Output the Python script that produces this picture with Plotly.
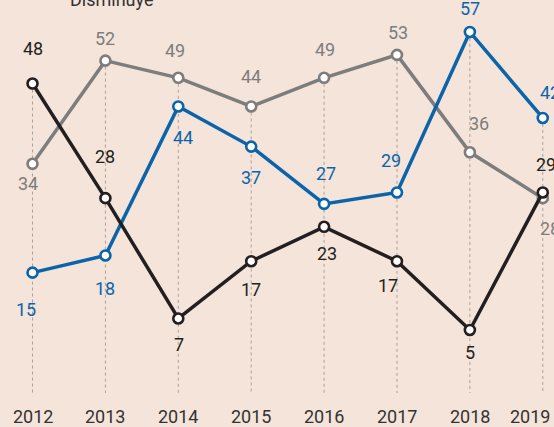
import plotly.graph_objects as go

years = ["2012", "2013", "2014", "2015", "2016", "2017", "2018", "2019"]
black_vals = [48, 28, 7, 17, 23, 17, 5, 29]
gray_vals = [34, 52, 49, 44, 49, 53, 36, 28]
blue_vals = [15, 18, 44, 37, 27, 29, 57, 42]

# label placement (pixel offsets from each point)
black_dy = [-35, -42, 26, 28, 27, 24, 23, -28]
black_dx = [0, 0, 1, 0, 3, -9, 0, 3]
gray_dy = [20, -22, -27, -30, -28, -22, -29, 30]
gray_dx = [-5, 0, -3, 0, 1, 1, 9, 7]
blue_dy = [37, 33, 31, 31, -30, -32, -23, -25]
blue_dx = [-7, 0, 5, 0, 2, -6, 0, 7]
year_dx = [0, 0, 0, 0, 0, 0, 0, -13]

BG = "#f5e4d9"
FONT = "Roboto, Liberation Sans, sans-serif"
series = [
    ("gray", gray_vals, "#7d7d7d", "#7d7d7d", gray_dx, gray_dy),
    ("blue", blue_vals, "#0b64aa", "#0b64aa", blue_dx, blue_dy),
    ("black", black_vals, "#231f20", "#231f20", black_dx, black_dy),
]

xs = list(range(len(years)))
fig = go.Figure()

# dashed guide lines from top point down to the axis
for i in xs:
    top = max(black_vals[i], gray_vals[i], blue_vals[i])
    fig.add_shape(type="line", xref="x", yref="y", x0=i, x1=i, y0=top, y1=-6,
                  line=dict(color="#aaa19c", width=1, dash="3px,3px"), layer="below")

annotations = []
for name, vals, col, tcol, dxs, dys in series:
    fig.add_trace(go.Scatter(
        x=xs, y=vals, mode="lines+markers", name=name,
        line=dict(color=col, width=3.5),
        marker=dict(symbol="circle", size=10, color="#ffffff",
                    line=dict(color=col, width=2.6)),
        showlegend=False, hoverinfo="skip", cliponaxis=False,
    ))
    for i, v in enumerate(vals):
        annotations.append(dict(
            x=i, y=v, xref="x", yref="y", text=str(v), showarrow=False,
            xshift=dxs[i], yshift=-dys[i], xanchor="center", yanchor="middle",
            font=dict(family=FONT, size=18, color=tcol),
        ))

for i, yr in enumerate(years):
    annotations.append(dict(
        x=i, y=0, xref="x", yref="paper", text=yr, showarrow=False,
        xshift=year_dx[i], yshift=-23, xanchor="center", yanchor="middle",
        font=dict(family=FONT, size=18, color="#333333"),
    ))

annotations.append(dict(
    x=0.202, y=1, xref="paper", yref="paper", text="Disminuye", showarrow=False,
    xanchor="center", yanchor="middle", yshift=1,
    font=dict(family=FONT, size=18, color="#333333"),
))

fig.update_layout(
    width=554, height=427,
    margin=dict(l=0, r=0, t=0, b=34),
    paper_bgcolor=BG, plot_bgcolor=BG,
    annotations=annotations,
    xaxis=dict(range=[-0.446, 7.154], showticklabels=False,
               showgrid=False, zeroline=False, showline=False, fixedrange=True),
    yaxis=dict(range=[-6.0, 62.58], showgrid=False, zeroline=False, showline=False,
               showticklabels=False, fixedrange=True),
)

fig.write_html("out.html", config={"displayModeBar": False},
               post_script="document.body.style.margin='0';document.body.style.overflow='hidden';document.body.style.background='" + BG + "';")
